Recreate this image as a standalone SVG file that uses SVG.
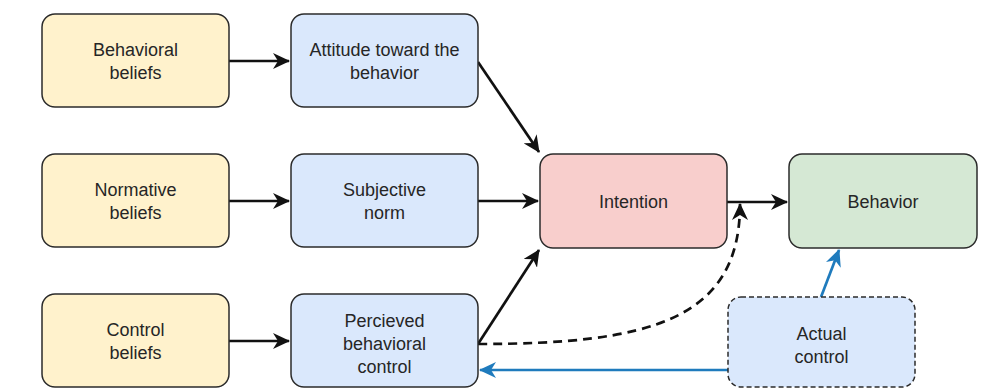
<svg xmlns="http://www.w3.org/2000/svg" width="1000" height="388" viewBox="0 0 1000 388">
<style>
.box{stroke:#2b2b2b;stroke-width:1.5}
.y{fill:#fff2cc}.b{fill:#dae8fc}.r{fill:#f8cecc}.g{fill:#d5e8d4}
.dash{stroke-dasharray:5 3}
text{font-family:"Liberation Sans",Arial,sans-serif;font-size:18px;fill:#262626;text-anchor:middle}
.e{fill:none;stroke:#111;stroke-width:2.7}
.bl{fill:none;stroke:#1f7bbd;stroke-width:2.7}
.dl{fill:none;stroke:#111;stroke-width:2.7;stroke-dasharray:9 6}
</style>
<defs>
<marker id="ak" viewBox="0 0 17 16" refX="16" refY="8" markerWidth="17" markerHeight="16" markerUnits="userSpaceOnUse" orient="auto"><path d="M0,0 L17,8 L0,16 L5,8 Z" fill="#111"/></marker>
<marker id="ab" viewBox="0 0 17 16" refX="16" refY="8" markerWidth="17" markerHeight="16" markerUnits="userSpaceOnUse" orient="auto"><path d="M0,0 L17,8 L0,16 L5,8 Z" fill="#1f7bbd"/></marker>
</defs>
<g id="connectors">
<path class="e" d="M229,61 L289,61" marker-end="url(#ak)"/>
<path class="e" d="M229,201 L289,201" marker-end="url(#ak)"/>
<path class="e" d="M229,341 L289,341" marker-end="url(#ak)"/>
<path class="e" d="M478,62 L539,152" marker-end="url(#ak)"/>
<path class="e" d="M478,201 L538,201" marker-end="url(#ak)"/>
<path class="e" d="M478,344 L539,250" marker-end="url(#ak)"/>
<path class="e" d="M727,202 L787,202" marker-end="url(#ak)"/>
<path class="dl" d="M478,344 C650,344 740,320 740,204" marker-end="url(#ak)"/>
<path class="bl" d="M728,370 L480,370" marker-end="url(#ab)"/>
<path class="bl" d="M821,297 L839,250" marker-end="url(#ab)"/>
</g>
<g id="behavioral-beliefs"><rect class="box y" x="42" y="14" width="187" height="93" rx="13"/><text x="135.5" y="56">Behavioral</text><text x="135.5" y="79">beliefs</text></g>
<g id="attitude"><rect class="box b" x="291" y="14" width="187" height="93" rx="13"/><text x="384.5" y="56">Attitude toward the</text><text x="384.5" y="79">behavior</text></g>
<g id="normative-beliefs"><rect class="box y" x="42" y="154" width="187" height="93" rx="13"/><text x="135.5" y="196">Normative</text><text x="135.5" y="219">beliefs</text></g>
<g id="subjective-norm"><rect class="box b" x="291" y="154" width="187" height="93" rx="13"/><text x="384.5" y="196">Subjective</text><text x="384.5" y="219">norm</text></g>
<g id="control-beliefs"><rect class="box y" x="42" y="294" width="187" height="93" rx="13"/><text x="135.5" y="336">Control</text><text x="135.5" y="359">beliefs</text></g>
<g id="perceived-control"><rect class="box b" x="291" y="294" width="187" height="93" rx="13"/><text x="384.5" y="327">Percieved</text><text x="384.5" y="350">behavioral</text><text x="384.5" y="373">control</text></g>
<g id="intention"><rect class="box r" x="540" y="154" width="187" height="94" rx="13"/><text x="633.5" y="208">Intention</text></g>
<g id="behavior"><rect class="box g" x="789" y="154" width="188" height="94" rx="13"/><text x="883" y="208">Behavior</text></g>
<g id="actual-control"><rect class="box b dash" x="728" y="297" width="187" height="90" rx="13"/><text x="821.5" y="340">Actual</text><text x="821.5" y="363">control</text></g>
</svg>
